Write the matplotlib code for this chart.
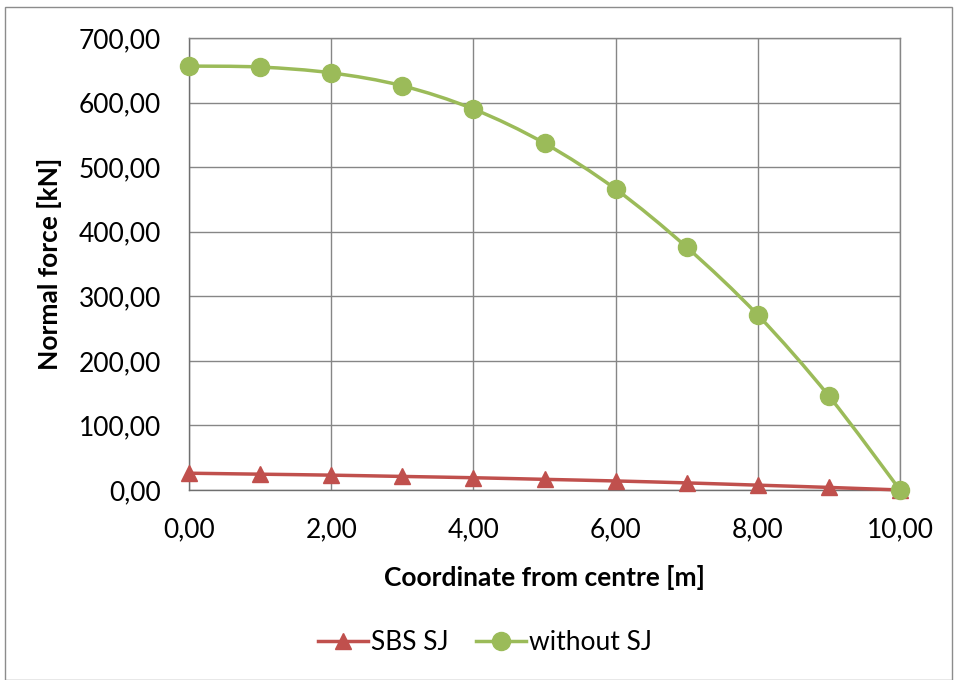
import matplotlib.pyplot as plt
import numpy as np
from matplotlib.path import Path
from matplotlib.patches import PathPatch, Rectangle

# data
coord = [0, 1, 2, 3, 4, 5, 6, 7, 8, 9, 10]
sbs_sj = [26, 24.5, 23, 21, 19, 16.5, 14, 11, 7.5, 4, 0]
without_sj = [656.5, 655, 646, 626, 590, 537, 466, 376, 271, 145.5, 0]

red = '#C0504D'
green = '#9BBB59'
grid_col = '#868686'

plt.rcParams['font.family'] = ['Lato', 'DejaVu Sans']
plt.rcParams['font.size'] = 19


def smooth_path(x, y):
    # excel-like smoothed line: bezier segments with catmull-rom control points
    x = np.asarray(x, float)
    y = np.asarray(y, float)
    verts = [(x[0], y[0])]
    codes = [Path.MOVETO]
    n = len(x)
    for i in range(n - 1):
        x0, y0 = (x[i - 1], y[i - 1]) if i > 0 else (x[i], y[i])
        x3, y3 = (x[i + 2], y[i + 2]) if i + 2 < n else (x[i + 1], y[i + 1])
        c1 = (x[i] + (x[i + 1] - x0) / 6, y[i] + (y[i + 1] - y0) / 6)
        c2 = (x[i + 1] - (x3 - x[i]) / 6, y[i + 1] - (y3 - y[i]) / 6)
        verts += [c1, c2, (x[i + 1], y[i + 1])]
        codes += [Path.CURVE4] * 3
    return Path(verts, codes)


fig = plt.figure(figsize=(9.57, 6.8), dpi=100)
ax = fig.add_axes([189 / 957, 1 - 490 / 680, 711 / 957, 452 / 680])

for xs, ys, c, m, ms in [(coord, sbs_sj, red, '^', 12), (coord, without_sj, green, 'o', 13)]:
    ax.add_patch(PathPatch(smooth_path(xs, ys), fill=False, edgecolor=c, lw=2.5, zorder=3, clip_on=False))
    ax.plot(xs, ys, ls='none', marker=m, ms=ms, color=c, zorder=4, clip_on=False)

ax.set_xlim(0, 10)
ax.set_ylim(0, 700)
ax.set_xticks(np.arange(0, 11, 2))
ax.set_yticks(np.arange(0, 701, 100))
ax.set_xticklabels(['{:.2f}'.format(v).replace('.', ',') for v in np.arange(0, 11, 2)])
ax.set_yticklabels(['{:.2f}'.format(v).replace('.', ',') for v in np.arange(0, 701, 100)])
ax.grid(True, color=grid_col, lw=1)
ax.set_axisbelow(True)
for s in ax.spines.values():
    s.set_color(grid_col)
    s.set_linewidth(1)
ax.spines['left'].set_color('#6f6f6f')
ax.spines['bottom'].set_color('#6f6f6f')
ax.tick_params(axis='y', length=0, pad=20)
ax.tick_params(axis='x', length=0, pad=20)

ax.set_xlabel('Coordinate from centre [m]', fontweight='bold', labelpad=16)
ax.set_ylabel('Normal force [kN]', fontweight='bold', labelpad=12)

# legend
h1, = ax.plot([], [], color=red, marker='^', ms=12, lw=2.5)
h2, = ax.plot([], [], color=green, marker='o', ms=13, lw=2.5)
fig.legend([h1, h2], ['SBS SJ', 'without SJ'], loc='center', bbox_to_anchor=(485 / 957, 1 - 643 / 680),
           ncol=2, frameon=False, handlelength=1.9, handletextpad=0.12, columnspacing=1.0)

fig.add_artist(Rectangle((5 / 957, 0), 947 / 957, 673 / 680, transform=fig.transFigure,
                         fill=False, edgecolor='#8c8c8c', lw=1))

plt.savefig('out.png', dpi=100)
